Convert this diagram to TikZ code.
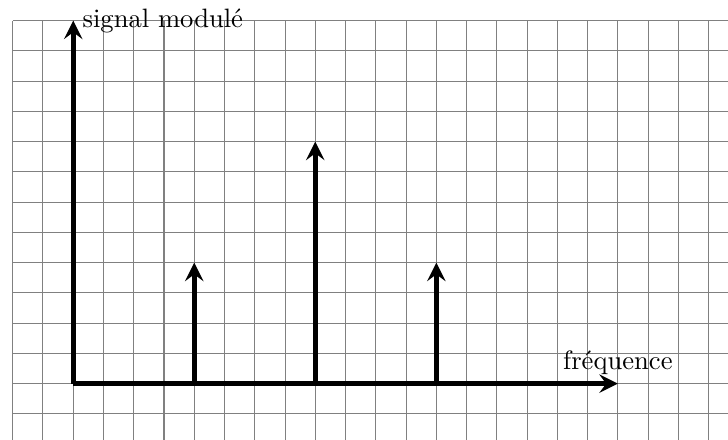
\documentclass[tikz,border=0pt]{standalone}
\usetikzlibrary{arrows}
\begin{document}
\begin{tikzpicture}[x=0.4cm,y=0.4cm,>=stealth,
  gridline/.style={gray,line width=0.4pt},
  axis/.style={->,line width=2pt},
  spike/.style={->,line width=2pt}]
\useasboundingbox (-2.42,-1.83) rectangle (21.64,12.68);
\clip (-2.42,-1.83) rectangle (21.64,12.68);
\foreach \i in {-2,...,22} \draw[gridline] (\i,-2) -- (\i,12);
\foreach \j in {-2,...,12} \draw[gridline] (-2,\j) -- (22,\j);
\coordinate (O) at (0,0);
\coordinate (xend) at (18,0);
\coordinate (yend) at (0,12);
\coordinate (b1) at (4,0);
\coordinate (t1) at (4,4);
\coordinate (b2) at (8,0);
\coordinate (t2) at (8,8);
\coordinate (b3) at (12,0);
\coordinate (t3) at (12,4);
\draw[axis] (O) -- (xend);
\draw[axis] (O) -- (yend);
\draw[spike] (b1) -- (t1);
\draw[spike] (b2) -- (t2);
\draw[spike] (b3) -- (t3);
\node[above] (fl) at (xend) {fréquence};
\node[right] (sl) at (yend) {signal modulé};
\end{tikzpicture}
\end{document}
